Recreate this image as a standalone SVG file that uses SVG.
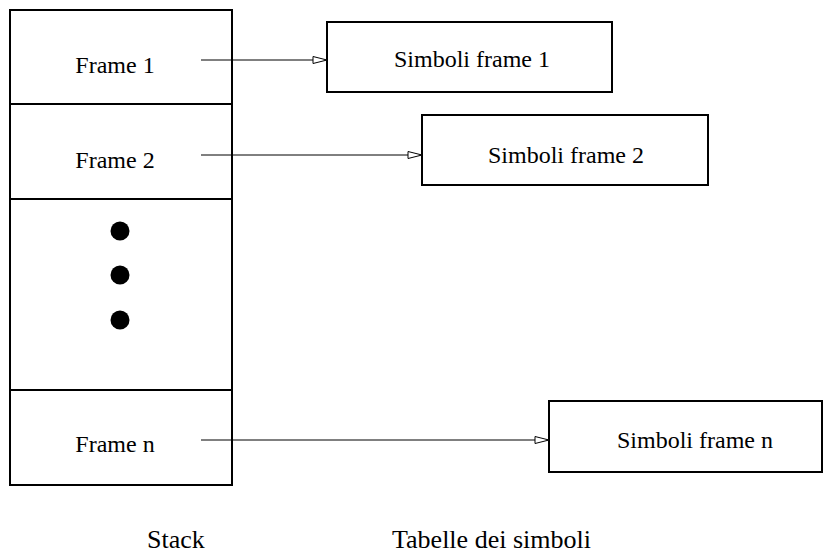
<svg xmlns="http://www.w3.org/2000/svg" width="824" height="554" viewBox="0 0 824 554">
  <style>
    .box { fill: #fff; stroke: #000; stroke-width: 2; }
    .lbl { font-family: "Liberation Serif", "Times New Roman", serif; font-size: 24px; fill: #000; text-anchor: middle; }
    .cap { font-family: "Liberation Serif", "Times New Roman", serif; font-size: 26px; fill: #000; }
    .wire { stroke: #000; stroke-width: 1; fill: none; marker-end: url(#tri); }
  </style>
  <defs>
    <marker id="tri" markerWidth="16" markerHeight="10" refX="15" refY="5" orient="auto" markerUnits="userSpaceOnUse">
      <path d="M1,1.5 L15,5 L1,8.5 Z" fill="#fff" stroke="#000" stroke-width="1"/>
    </marker>
  </defs>
  <rect width="824" height="554" fill="#fff"/>

  <!-- stack of frames -->
  <g id="stack">
    <rect class="box" x="10" y="10" width="222" height="475"/>
    <line x1="10" y1="104" x2="232" y2="104" stroke="#000" stroke-width="2"/>
    <line x1="10" y1="199" x2="232" y2="199" stroke="#000" stroke-width="2"/>
    <line x1="10" y1="390" x2="232" y2="390" stroke="#000" stroke-width="2"/>
  </g>
  <g id="frame1"><text class="lbl" x="115" y="73">Frame 1</text></g>
  <g id="frame2"><text class="lbl" x="115" y="168">Frame 2</text></g>
  <g id="ellipsis">
    <circle cx="120" cy="231" r="9.5" fill="#000"/>
    <circle cx="120" cy="275" r="9.5" fill="#000"/>
    <circle cx="120" cy="320" r="9.5" fill="#000"/>
  </g>
  <g id="framen"><text class="lbl" x="115" y="452">Frame n</text></g>

  <!-- symbol tables -->
  <g id="sym1">
    <rect class="box" x="327" y="22" width="285" height="70"/>
    <text class="lbl" x="472" y="67">Simboli frame 1</text>
  </g>
  <g id="sym2">
    <rect class="box" x="422" y="115" width="286" height="70"/>
    <text class="lbl" x="566" y="163">Simboli frame 2</text>
  </g>
  <g id="symn">
    <rect class="box" x="549" y="401" width="273" height="71"/>
    <text class="lbl" x="695" y="448">Simboli frame n</text>
  </g>

  <!-- connectors -->
  <g id="connectors">
    <line class="wire" x1="201" y1="60" x2="327" y2="60"/>
    <line class="wire" x1="201" y1="155" x2="422" y2="155"/>
    <line class="wire" x1="201" y1="440" x2="549" y2="440"/>
  </g>

  <!-- captions -->
  <g id="captions">
    <text class="cap" x="147" y="548">Stack</text>
    <text class="cap" x="392" y="548">Tabelle dei simboli</text>
  </g>
</svg>
